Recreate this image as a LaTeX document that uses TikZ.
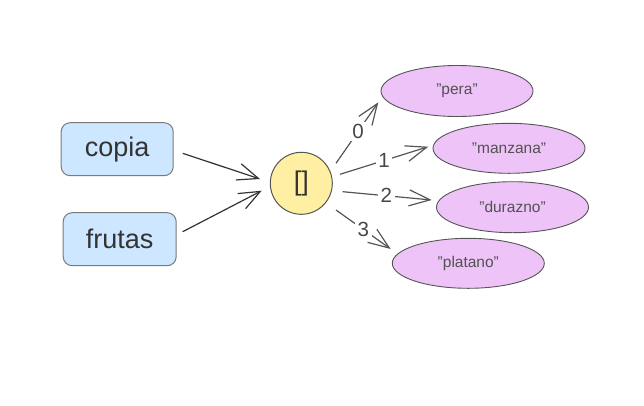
\documentclass[tikz,border=0pt]{standalone}
\usepackage{fontspec}
\setmainfont[Ligatures=Common]{Liberation Sans}
\usetikzlibrary{shapes.geometric,arrows.meta}
\newcommand\dq{\symbol{34}}
\definecolor{boxfill}{HTML}{CCE7FF}
\definecolor{boxdraw}{HTML}{7A7A7A}
\definecolor{circfill}{HTML}{FFEFA2}
\definecolor{circdraw}{HTML}{555555}
\definecolor{ellfill}{HTML}{EEC3F7}
\definecolor{elldraw}{HTML}{555555}
\definecolor{txt}{HTML}{333333}
\definecolor{edgecol}{HTML}{555555}
\tikzset{
  varbox/.style={draw=boxdraw, fill=boxfill, line width=1pt, rounded corners=9pt,
    minimum width=112pt, minimum height=53pt, inner sep=0pt, text=txt,
    font=\fontsize{27}{32}\selectfont},
  listnode/.style={circle, draw=circdraw, fill=circfill, line width=1pt,
    minimum size=62pt, inner sep=0pt, text=txt, font=\fontsize{27}{32}\selectfont},
  strnode/.style={ellipse, draw=elldraw, fill=ellfill, line width=0.9pt,
    minimum width=152pt, minimum height=51pt, inner sep=0pt, text=txt!85!white,
    font=\fontsize{15.5}{18}\selectfont},
  refarrow/.style={draw=txt, line width=1.2pt, -{Straight Barb[length=21pt,width=17pt,line width=1.2pt]}},
  idxarrow/.style={draw=edgecol, line width=1.2pt, -{Straight Barb[length=21pt,width=16pt,line width=1.2pt]}},
  idxlabel/.style={fill=white, inner sep=2.5pt, text=txt!90!white, font=\fontsize{20.5}{24}\selectfont}
}
\begin{document}
\begin{tikzpicture}[x=1pt,y=-1pt]
\useasboundingbox (0,0) rectangle (644,405);
\node[varbox] (copia) at (117.2,149.2) {copia};
\node[varbox, minimum width=113pt] (frutas) at (119.7,239.2) {frutas};
\node[listnode] (arr) at (301.3,183.3) {[]};
\node[strnode] (pera) at (457,91) {\dq pera\dq};
\node[strnode, minimum height=50pt] (manzana) at (509,148.3) {\dq manzana\dq};
\node[strnode] (durazno) at (512.5,207.2) {\dq durazno\dq};
\node[strnode, minimum height=50pt] (platano) at (468.3,263.3) {\dq platano\dq};

\draw[refarrow] ([shift={(65.5,4.1)}]copia.center) -- ([shift={(-41.3,-4.3)}]arr.center);
\draw[refarrow] ([shift={(63,-7.5)}]frutas.center) -- ([shift={(-39.6,7.4)}]arr.center);

\draw[idxarrow] ([shift={(34.7,-20)}]arr.center) -- node[idxlabel, pos=0.52] {0} ([shift={(-78.7,11.3)}]pera.center);
\draw[idxarrow] ([shift={(38.7,-9)}]arr.center) -- node[idxlabel, pos=0.5] {1} ([shift={(-80.7,-1.6)}]manzana.center);
\draw[idxarrow] ([shift={(41.4,8.4)}]arr.center) -- node[idxlabel, pos=0.49] {2} ([shift={(-80.8,-7.2)}]durazno.center);
\draw[idxarrow] ([shift={(34.7,26.7)}]arr.center) -- node[idxlabel, pos=0.5] {3} ([shift={(-77.6,-14.3)}]platano.center);
\end{tikzpicture}
\end{document}
